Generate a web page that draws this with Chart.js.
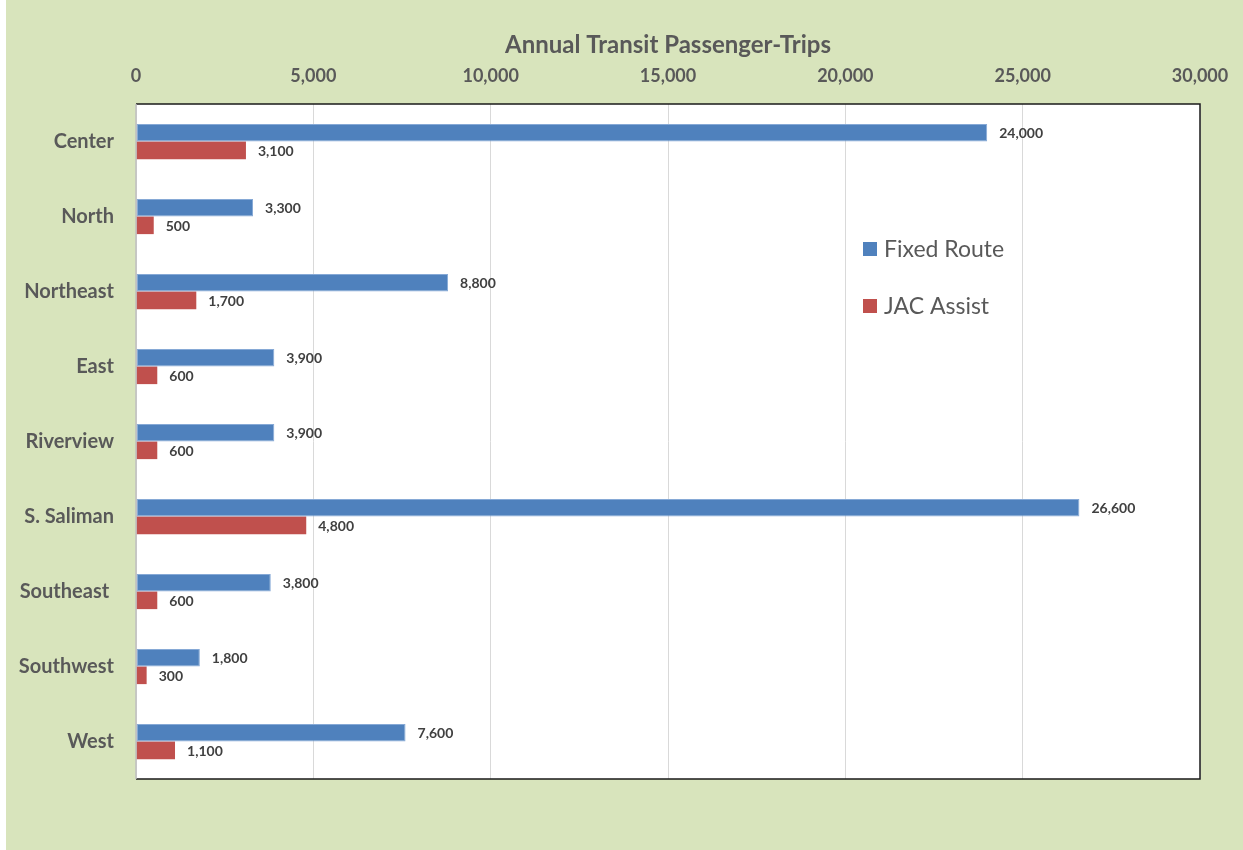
<!DOCTYPE html>
<html>
<head>
<meta charset="utf-8">
<script src="https://cdn.jsdelivr.net/npm/chart.js@4/dist/chart.umd.min.js"></script>
<style>
  html, body { margin: 0; padding: 0; background: #ffffff; }
  #wrap { position: absolute; left: 6px; top: 0; width: 1237px; height: 850px; background: #d8e4bc; }
  canvas { display: block; }
</style>
</head>
<body>
<div id="wrap"><canvas id="c" width="1237" height="850"></canvas></div>
<script>
const categories = ["Center", "North", "Northeast", "East", "Riverview", "S. Saliman", "Southeast ", "Southwest", "West"];
const fixedRoute = [24000, 3300, 8800, 3900, 3900, 26600, 3800, 1800, 7600];
const jacAssist = [3100, 500, 1700, 600, 600, 4800, 600, 300, 1100];
const xTicks = [0, 5000, 10000, 15000, 20000, 25000, 30000];
const seriesNames = ["Fixed Route", "JAC Assist"];
const chartTitle = "Annual Transit Passenger-Trips";

const FONT = "Lato, 'Open Sans', 'DejaVu Sans', sans-serif";
const fmt = v => v.toLocaleString('en-US');

const plotBg = {
  id: 'plotBg',
  beforeDraw(chart) {
    const {ctx, chartArea: a} = chart;
    ctx.save();
    ctx.fillStyle = '#ffffff';
    ctx.fillRect(a.left, a.top, a.right - a.left, a.bottom - a.top);
    ctx.restore();
  },
  afterDraw(chart) {
    const {ctx, chartArea: a} = chart;
    ctx.save();
    ctx.strokeStyle = '#1a1a1a';
    ctx.lineWidth = 1.5;
    ctx.beginPath();
    ctx.moveTo(a.left, a.top);
    ctx.lineTo(a.right, a.top);
    ctx.lineTo(a.right, a.bottom);
    ctx.lineTo(a.left, a.bottom);
    ctx.stroke();
    ctx.strokeStyle = '#bfbfbf';
    ctx.lineWidth = 1.5;
    ctx.beginPath();
    ctx.moveTo(a.left, a.top);
    ctx.lineTo(a.left, a.bottom);
    ctx.stroke();
    ctx.restore();
  }
};

const valueLabels = {
  id: 'valueLabels',
  afterDatasetsDraw(chart) {
    const {ctx} = chart;
    ctx.save();
    ctx.font = "bold 14px " + FONT;
    ctx.fillStyle = '#404040';
    ctx.textAlign = 'left';
    ctx.textBaseline = 'middle';
    chart.data.datasets.forEach((ds, i) => {
      const meta = chart.getDatasetMeta(i);
      meta.data.forEach((el, j) => {
        ctx.fillText(fmt(ds.data[j]), el.x + 12, el.y + 1);
      });
    });
    ctx.restore();
  }
};

const innerLegend = {
  id: 'innerLegend',
  afterDraw(chart) {
    const {ctx, chartArea: a} = chart;
    ctx.save();
    ctx.font = "23px " + FONT;
    ctx.textAlign = 'left';
    ctx.textBaseline = 'middle';
    chart.data.datasets.forEach((ds, i) => {
      const x = a.left + 727;
      const y = a.top + 145 + i * 57;
      ctx.fillStyle = ds.backgroundColor;
      ctx.fillRect(x, y - 7, 14, 14);
      ctx.fillStyle = '#595959';
      ctx.fillText(ds.label, x + 21, y + 1);
    });
    ctx.restore();
  }
};

new Chart(document.getElementById('c'), {
  type: 'bar',
  data: {
    labels: categories,
    datasets: [
      { label: seriesNames[0], data: fixedRoute, backgroundColor: '#4f81bd', borderColor: '#86a9d6', borderWidth: 1, borderSkipped: false },
      { label: seriesNames[1], data: jacAssist, backgroundColor: '#c0504d', borderWidth: 0 }
    ]
  },
  options: {
    indexAxis: 'y',
    responsive: false,
    animation: false,
    devicePixelRatio: 1,
    layout: { padding: { left: 0, top: 0, right: 43, bottom: 71 } },
    datasets: { bar: { categoryPercentage: 0.47, barPercentage: 1.0 } },
    plugins: {
      legend: { display: false },
      tooltip: { enabled: false },
      title: { display: false }
    },
    scales: {
      x: {
        position: 'top',
        min: 0, max: 30000,
        afterBuildTicks(scale) { scale.ticks = xTicks.map(v => ({ value: v })); },
        afterFit(scale) { scale.height = 104; scale.paddingRight = 0; scale.paddingLeft = 0; },
        ticks: {
          callback: v => fmt(v),
          color: '#595959',
          font: { family: FONT, size: 18, weight: 'bold' },
          padding: 17,
          maxRotation: 0
        },
        grid: { color: '#d9d9d9', lineWidth: 1, drawTicks: false },
        border: { display: false },
        title: {
          display: true,
          text: chartTitle,
          color: '#595959',
          font: { family: FONT, size: 24, weight: 'bold' },
          padding: { top: 31, bottom: 0 }
        }
      },
      y: {
        afterFit(scale) { scale.width = 130; },
        ticks: {
          color: '#595959',
          font: { family: FONT, size: 20, weight: 'bold' },
          padding: 22
        },
        grid: { display: false, drawTicks: false },
        border: { display: false }
      }
    }
  },
  plugins: [plotBg, valueLabels, innerLegend]
});
</script>
</body>
</html>
